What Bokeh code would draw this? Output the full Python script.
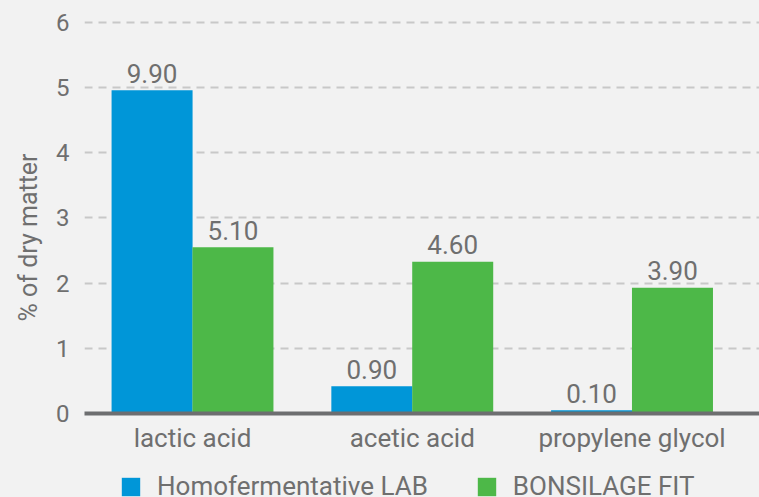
from bokeh.plotting import figure
from bokeh.layouts import column
from bokeh.models import Range1d, FixedTicker, Legend, LegendItem, ColumnDataSource, Title
from bokeh.transform import dodge
from bokeh.core.properties import value
from bokeh.embed import file_html
from bokeh.resources import INLINE

# ---- data ----
categories = ["lactic acid", "acetic acid", "propylene glycol"]
series_names = ["Homofermentative LAB", "BONSILAGE FIT"]
homo_values = [4.96, 0.42, 0.05]
fit_values = [2.55, 2.33, 1.93]
homo_labels = ["9.90", "0.90", "0.10"]
fit_labels = ["5.10", "4.60", "3.90"]
y_ticks = [0, 1, 2, 3, 4, 5, 6]
y_title = "% of dry matter"

BLUE = "#0096d8"
GREEN = "#4db848"
TEXT = "#6f6f6f"
BG = "#f2f2f2"
FONT = "Roboto"

cat_x = [i + 0.5 for i in range(len(categories))]
src = ColumnDataSource(dict(x=cat_x, cat=categories, homo=homo_values, fit=fit_values,
                            homo_lbl=homo_labels, fit_lbl=fit_labels))

p = figure(width=759, height=460,
           x_range=Range1d(0.0085, 3.08), y_range=Range1d(0, 6.107),
           output_backend="svg", toolbar_location=None,
           min_border_left=84, min_border_right=0, min_border_top=15, min_border_bottom=47,
           background_fill_color=BG, border_fill_color=BG, outline_line_color=None)

OFF = 0.184
W = 0.3686
r1 = p.vbar(x=dodge("x", -OFF), top="homo", width=W, source=src,
            fill_color=BLUE, line_color=None)
r2 = p.vbar(x=dodge("x", OFF), top="fit", width=W, source=src,
            fill_color=GREEN, line_color=None)

p.text(x=dodge("x", -OFF), y="homo", text="homo_lbl", source=src,
       text_align="center", text_baseline="middle", y_offset=-17,
       text_font=value(FONT), text_font_size="26px", text_color=TEXT)
p.text(x=dodge("x", OFF), y="fit", text="fit_lbl", source=src,
       text_align="center", text_baseline="middle", y_offset=-17,
       text_font=value(FONT), text_font_size="26px", text_color=TEXT)

# axes
xa = p.xaxis[0]
xa.ticker = FixedTicker(ticks=cat_x)
xa.major_label_overrides = {x: c for x, c in zip(cat_x, categories)}
xa.axis_line_color = "#6d6e70"
xa.axis_line_width = 4
xa.major_tick_line_color = None
xa.minor_tick_line_color = None
xa.major_label_text_font = FONT
xa.major_label_text_font_size = "26px"
xa.major_label_text_color = TEXT
xa.major_label_standoff = 3

ya = p.yaxis[0]
ya.ticker = FixedTicker(ticks=y_ticks)
ya.axis_line_color = None
ya.major_tick_line_color = None
ya.minor_tick_line_color = None
ya.major_label_text_font = FONT
ya.major_label_text_font_size = "24px"
ya.major_label_text_color = TEXT
ya.major_label_standoff = 9

# y-axis title, in the left panel outside the tick labels
p.add_layout(Title(text=y_title, align="left", offset=92, standoff=22,
                   text_font=FONT, text_font_size="25px", text_font_style="normal",
                   text_color=TEXT), "left")

p.xgrid.visible = False
p.ygrid.grid_line_color = "#c8c8c8"
p.ygrid.grid_line_width = 2
p.ygrid.grid_line_dash = "8 6"

# ---- legend strip below the chart ----
# the series renderers here sit outside this strip's view; they only supply legend swatches
lg = figure(width=759, height=37, x_range=Range1d(0, 1), y_range=Range1d(100, 101),
            output_backend="svg", toolbar_location=None,
            min_border_left=0, min_border_right=0, min_border_top=0, min_border_bottom=0,
            background_fill_color=BG, border_fill_color=BG, outline_line_color=None,
            x_axis_location=None, y_axis_location=None)
lg.grid.visible = False
l1 = lg.vbar(x="x", top="homo", width=W, source=src, fill_color=BLUE, line_color=None)
l2 = lg.vbar(x="x", top="fit", width=W, source=src, fill_color=GREEN, line_color=None)

legend = Legend(items=[LegendItem(label=series_names[0], renderers=[l1]),
                       LegendItem(label=series_names[1], renderers=[l2])],
                orientation="horizontal", location=(35, -4),
                glyph_width=23, glyph_height=23, label_height=23,
                label_standoff=15, spacing=47, padding=0, margin=0,
                border_line_color=None, background_fill_alpha=0,
                label_text_font=FONT, label_text_font_size="26px",
                label_text_baseline="bottom",
                label_text_color=TEXT)
lg.add_layout(legend)

layout = column(p, lg, spacing=0, styles={"background-color": BG})

html = file_html(layout, INLINE)
html = html.replace("<body>", '<body style="background:#f2f2f2">', 1)
open("out.html", "w").write(html)
